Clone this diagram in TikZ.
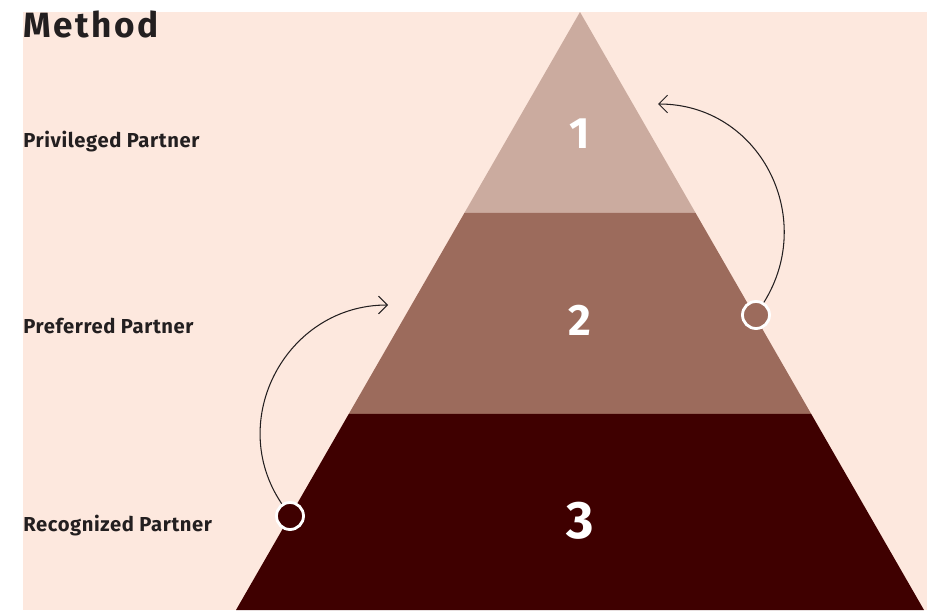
\documentclass[tikz,border=0pt]{standalone}
\usepackage{fontspec}
\setmainfont{Fira Sans}
\usetikzlibrary{arrows.meta,calc}
\definecolor{peach}{HTML}{FDE8DE}
\definecolor{tierone}{HTML}{CBAB9F}
\definecolor{tiertwo}{HTML}{9C6B5C}
\definecolor{tierthree}{HTML}{3F0000}
\definecolor{ink}{HTML}{231F20}
\tikzset{
  tier/.style={font=\bfseries\fontsize{25}{25}\selectfont,text=white},
  partner/.style={anchor=base west,inner sep=0pt,font=\bfseries\fontsize{11.5}{12}\selectfont\addfontfeatures{LetterSpace=3},text=ink},
  knob/.style={circle,draw=white,line width=1.6pt,minimum size=0.54cm,inner sep=0pt},
  climb/.style={draw=ink,line width=0.6pt,-{Straight Barb[length=5pt,width=10pt]},looseness=1.15},
}
\begin{document}
\begin{tikzpicture}[x=0.02cm,y=0.02cm]
\useasboundingbox (0,0) rectangle (938,610);
\fill[peach] (23,0) rectangle (927,598);
\coordinate (T) at (580,598);
\coordinate (L) at (236,0);
\coordinate (R) at (924,0);
\coordinate (A1) at ($(T)!0.3361!(L)$);
\coordinate (B1) at ($(T)!0.3361!(R)$);
\coordinate (A2) at ($(T)!0.6722!(L)$);
\coordinate (B2) at ($(T)!0.6722!(R)$);
\fill[tierone] (T) -- (A1) -- (B1) -- cycle;
\fill[tiertwo] (A1) -- (A2) -- (B2) -- (B1) -- cycle;
\fill[tierthree] (A2) -- (L) -- (R) -- (B2) -- cycle;
\node[tier] (n1) at (580,476) {1};
\node[tier] (n2) at (580,290) {2};
\node[tier,font=\bfseries\fontsize{30}{30}\selectfont] (n3) at (580,89) {3};
\node[anchor=base west,inner sep=0pt,font=\bfseries\fontsize{20}{20}\selectfont\addfontfeatures{LetterSpace=7},text=ink] (title) at (23,573) {Method};
\node[partner] (privileged) at (23,463) {Privileged Partner};
\node[partner] (preferred) at (23,277) {Preferred Partner};
\node[partner] (recognized) at (23,79) {Recognized Partner};
\node[knob,fill=tierthree] (recog) at (290,94) {};
\node[knob,fill=tiertwo] (prefer) at (756,295) {};
\coordinate (upA) at (388,305);
\coordinate (upB) at (658,506);
\draw[climb] (recog) to[out=124,in=180] (upA);
\draw[climb] (prefer) to[out=58,in=0] (upB);
\end{tikzpicture}
\end{document}
